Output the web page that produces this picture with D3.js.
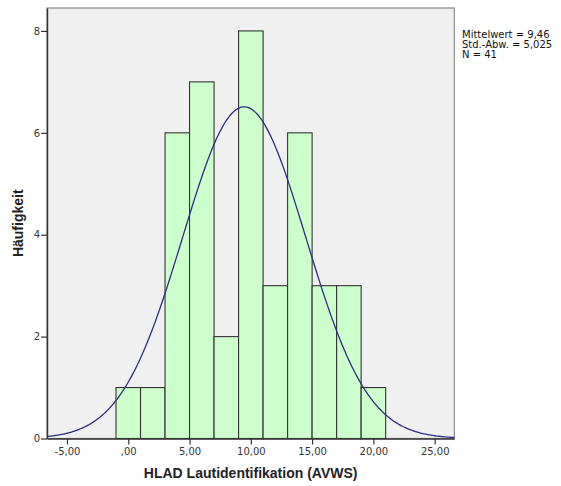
<!DOCTYPE html>
<html><head><meta charset="utf-8">
<script src="https://cdn.jsdelivr.net/npm/d3@7"></script>
<style>body{margin:0;background:#fff}svg{display:block}</style>
</head><body><svg id="c" width="561" height="486"></svg>
<script>
const binStarts = [-1, 1, 3, 5, 7, 9, 11, 13, 15, 17, 19];
const binWidth = 2;
const counts = [1, 1, 6, 7, 2, 8, 3, 6, 3, 3, 1];
const xTicks = [-5, 0, 5, 10, 15, 20, 25];
const xTickLabels = ["-5,00", ",00", "5,00", "10,00", "15,00", "20,00", "25,00"];
const yTicks = [0, 2, 4, 6, 8];
const mean = 9.46, sd = 5.025, n = 41;
const statsLines = ["Mittelwert = 9,46", "Std.-Abw. = 5,025", "N = 41"];

const svg = d3.select("#c");
const L = 47, R = 454.3, T = 8, B = 438.5;
const x = d3.scaleLinear().domain([-6.63, 26.6]).range([L, R]);
const y = d3.scaleLinear().domain([0, 8.45]).range([B, T]);
const font = "'Liberation Sans', Arial, sans-serif";
const tfont = "'DejaVu Sans', sans-serif";

svg.append("rect").attr("x", L).attr("y", T).attr("width", R - L).attr("height", B - T)
  .attr("fill", "#f0f0f0").attr("stroke", "#8a8a8a").attr("stroke-width", 1.2);

svg.append("g").selectAll("rect").data(binStarts).join("rect")
  .attr("x", d => x(d)).attr("width", d => x(d + binWidth) - x(d))
  .attr("y", (d, i) => y(counts[i])).attr("height", (d, i) => y(0) - y(counts[i]))
  .attr("fill", "#ccffcc").attr("stroke", "#333").attr("stroke-width", 1.1);

const curveX = d3.range(0, 401).map(i => -6.63 + i * (26.6 + 6.63) / 400);
const pdf = v => n * binWidth / (sd * Math.sqrt(2 * Math.PI)) * Math.exp(-0.5 * ((v - mean) / sd) ** 2);
svg.append("path").datum(curveX)
  .attr("d", d3.line().x(d => x(d)).y(d => y(pdf(d))))
  .attr("fill", "none").attr("stroke", "#2e2e80").attr("stroke-width", 1.3);

const xa = svg.append("g").attr("transform", `translate(0,${B})`)
  .call(d3.axisBottom(x).tickValues(xTicks).tickSize(6).tickSizeOuter(0)
    .tickFormat((d, i) => xTickLabels[i]));
xa.select(".domain").attr("stroke", "#333").attr("stroke-width", 1.4);
xa.selectAll(".tick line").attr("stroke", "#333").attr("stroke-width", 1.2);
xa.selectAll("text").attr("font-family", tfont).attr("font-size", 10).attr("fill", "#333").attr("y", 9).attr("dy", "0.75em");

const ya = svg.append("g").attr("transform", `translate(${L},0)`)
  .call(d3.axisLeft(y).tickValues(yTicks).tickSize(6).tickSizeOuter(0).tickFormat(d3.format("d")));
ya.select(".domain").attr("stroke", "#333").attr("stroke-width", 1.4);
ya.selectAll(".tick line").attr("stroke", "#333").attr("stroke-width", 1.2);
ya.selectAll("text").attr("font-family", tfont).attr("font-size", 10).attr("fill", "#333").attr("x", -7);

svg.append("text").attr("x", (L + R) / 2).attr("y", 478).attr("text-anchor", "middle")
  .attr("font-family", font).attr("font-weight", "bold").attr("font-size", 14).attr("fill", "#222")
  .text("HLAD Lautidentifikation (AVWS)");
svg.append("text").attr("transform", `translate(23,${(T + B) / 2}) rotate(-90)`).attr("text-anchor", "middle")
  .attr("font-family", font).attr("font-weight", "bold").attr("font-size", 14).attr("fill", "#222")
  .text("Häufigkeit");

svg.append("g").selectAll("text").data(statsLines).join("text")
  .attr("x", 462).attr("y", (d, i) => 38 + i * 10)
  .attr("font-family", tfont).attr("font-size", 10).attr("fill", "#111").text(d => d);
</script></body></html>
